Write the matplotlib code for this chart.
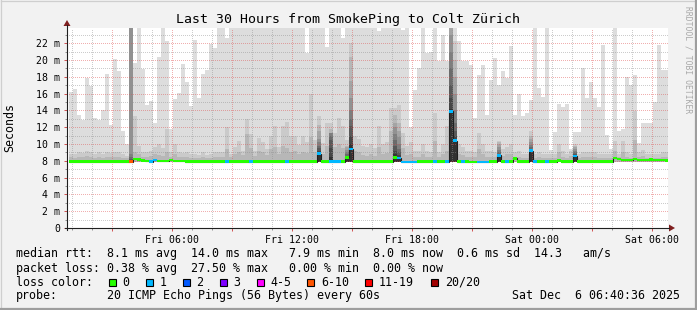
import numpy as np
import matplotlib.pyplot as plt
from matplotlib.patches import Rectangle, Polygon
from matplotlib.lines import Line2D

plt.rcParams['font.family'] = ['DejaVu Sans Mono']

# ---- data: 150 columns of 12 minutes, hours after Fri 00:00 ----------
t0 = 0.835
step = 0.2
F = 30.0  # above the top of the graph

smoke_max = [16.2, 16.6, 13.5, 12.9, 17.9, 16.9, 13.1, 12.8, 14.0, 18.3,
             12.3, 20.1, 18.7, 11.6, 10.0, F, 19.6, F, 18.9, 14.6,
             15.1, 12.5, 20.4, F, 22.3, 11.8, 15.4, 16.1, 19.5, 17.4,
             14.5, 22.4, 15.5, 18.3, 18.8, 21.9, 21.4, F, F, 22.6,
             F, F, F, F, F, F, F, F, F, F,
             F, F, F, F, F, F, F, F, F, 20.8,
             F, F, F, F, 21.5, F, F, F, 22.6, F,
             F, F, F, F, F, F, F, 23.4, F, F,
             F, F, F, 23.6, F, 12.0, 16.4, 19.0, F, 20.8,
             21.0, F, 19.9, 23.0, 19.9, F, F, 22.3, 19.9, 19.9,
             19.4, 13.1, 18.2, 19.4, 13.5, 17.6, 20.2, 17.0, 18.7, 17.9,
             21.7, 13.4, 15.9, 13.3, 13.7, 15.2, F, 16.7, 15.6, F,
             9.3, 11.4, 14.8, 14.4, 14.8, 9.4, 11.4, 11.4, 19.0, 15.5,
             17.4, 15.5, 14.4, 21.8, 11.1, 9.4, F, 11.5, 11.8, 18.0,
             17.0, 18.2, 10.1, 12.5, 12.5, 12.5, 15.0, 21.8, 18.8, 18.8]

smoke_p2 = [8.8, 8.8, 9.0, 8.9, 9.2, 9.0, 8.8, 9.0, 8.8, 9.0,
            8.9, 9.0, 9.0, 8.8, 8.6, F, 13.3, 9.8, 9.0, 9.0,
            9.2, 9.6, 10.0, 9.5, 11.8, 9.0, 10.0, 9.0, 8.9, 9.0,
            8.8, 8.8, 8.7, 9.0, 8.7, 8.8, 9.0, 9.1, 9.0, 12.0,
            8.8, 9.7, 10.4, 9.2, 13.0, 11.2, 9.2, 10.7, 10.2, 9.4,
            10.9, 12.2, 9.7, 12.1, 12.6, 10.9, 10.9, 9.9, 10.9, 10.2,
            15.9, 10.5, 13.3, 10.1, 12.5, 12.5, 11.3, 13.1, 12.1, 10.5,
            22.0, 10.9, 10.6, 9.8, 9.6, 10.0, 9.5, 12.1, 10.0, 10.2,
            14.3, 14.3, 14.7, 11.3, 9.8, 10.2, 9.2, 9.2, 10.0, 9.2,
            9.0, 13.7, 9.0, 10.0, 12.1, F, 22.3, 10.0, 9.6, 9.2,
            9.2, 9.0, 11.3, 10.0, 9.2, 9.2, 9.0, 10.4, 9.4, 9.6,
            10.0, 9.0, 9.2, 8.8, 8.8, 11.5, 8.8, 9.0, 8.8, 8.8,
            8.8, 8.8, 10.0, 9.2, 8.8, 9.2, 10.0, 8.8, 9.0, 9.0,
            9.0, 9.0, 8.8, 8.8, 8.8, 8.8, 10.4, 8.8, 10.4, 9.0,
            8.8, 13.9, 9.0, 9.3, 8.8, 8.8, 8.8, 8.8, 9.0, 9.0]

smoke_p3 = [8.4, 8.3, 8.4, 8.5, 8.6, 8.4, 8.3, 8.4, 8.3, 8.5,
            8.4, 8.5, 8.4, 8.3, 8.3, F, 9.0, 8.8, 8.5, 8.5,
            8.6, 8.8, 8.7, 8.6, 9.0, 8.5, 8.8, 8.4, 8.4, 8.5,
            8.3, 8.3, 8.3, 8.4, 8.3, 8.3, 8.4, 8.5, 8.4, 9.4,
            8.4, 8.8, 9.0, 8.7, 11.2, 9.5, 8.6, 9.2, 9.0, 8.7,
            9.4, 9.6, 8.8, 9.8, 9.5, 9.0, 9.2, 8.8, 9.0, 8.9,
            10.8, 9.0, 12.3, 8.8, 9.8, 11.8, 9.6, 10.0, 9.5, 9.8,
            20.4, 9.2, 9.0, 8.7, 8.6, 8.8, 8.6, 9.6, 8.8, 8.9,
            11.5, 13.5, 12.5, 9.5, 8.7, 8.8, 8.5, 8.5, 8.8, 8.5,
            8.4, 10.4, 8.4, 8.8, 9.2, F, 20.0, 8.8, 8.7, 8.5,
            8.5, 8.4, 9.4, 8.8, 8.5, 8.5, 8.4, 10.2, 8.6, 8.8,
            8.8, 8.5, 8.5, 8.3, 8.3, 11.0, 8.3, 8.4, 8.3, 8.3,
            8.3, 8.3, 9.0, 8.5, 8.3, 8.6, 9.8, 8.3, 8.4, 8.4,
            8.4, 8.4, 8.3, 8.3, 8.3, 8.3, 9.2, 8.4, 9.0, 8.4,
            8.3, 10.5, 8.4, 8.6, 8.3, 8.3, 8.3, 8.3, 8.4, 8.4]

# columns with dense smoke: tops of the darker layers 4..10
spike_cols = [15, 62, 65, 69, 70, 81, 82, 95, 96, 107, 115, 126]
spike_levels = [[F, F, 8.8, 8.4, 8.2, 8.1, 8.0],
                [11.5, 10.6, 10.2, 9.8, 9.5, 9.2, 9.0],
                [11.3, 11.3, 11.3, 11.0, 10.5, 9.5, 8.5],
                [9.6, 9.3, 9.0, 8.8, 8.6, 8.5, 8.4],
                [17.5, 15.5, 14.0, 13.0, 12.2, 11.0, 10.0],
                [12.5, 12.0, 11.2, 10.5, 9.8, 9.2, 8.8],
                [11.5, 10.8, 10.0, 9.4, 9.0, 8.7, 8.5],
                [F, 23.0, 21.0, 19.0, 17.0, 15.5, 14.2],
                [18.0, 16.0, 14.0, 12.5, 11.5, 11.0, 10.6],
                [10.0, 9.6, 9.3, 9.0, 8.8, 8.7, 8.65],
                [10.6, 10.2, 9.9, 9.6, 9.4, 9.3, 9.2],
                [9.6, 9.4, 9.2, 9.0, 8.8, 8.7, 8.6]]

median_ms = [7.9, 7.9, 7.9, 7.9, 7.9, 7.9, 7.9, 7.9, 7.9, 7.9,
             7.9, 7.9, 7.9, 7.9, 7.9, 7.9, 8.2, 8.15, 8.05, 8.0,
             7.9, 8.1, 8.0, 8.0, 7.95, 8.1, 8.0, 7.95, 7.95, 7.9,
             7.9, 7.9, 7.9, 7.9, 7.9, 7.9, 7.9, 7.9, 7.9, 7.9,
             7.9, 7.9, 7.9, 7.9, 7.9, 7.9, 7.9, 7.9, 7.9, 7.9,
             7.9, 7.9, 7.9, 7.9, 7.9, 7.9, 7.9, 7.9, 7.9, 7.9,
             7.9, 7.9, 8.85, 7.9, 7.9, 7.9, 7.9, 7.9, 7.9, 8.4,
             9.4, 7.9, 7.9, 7.9, 7.9, 7.9, 7.9, 7.9, 7.9, 7.9,
             7.9, 8.4, 8.35, 7.85, 7.85, 7.85, 7.85, 7.9, 7.9, 7.9,
             7.9, 7.9, 7.9, 7.9, 7.9, 13.9, 10.4, 7.9, 7.9, 7.9,
             7.85, 7.85, 7.85, 7.85, 7.85, 7.9, 7.9, 8.65, 7.9, 7.9,
             7.9, 8.3, 7.9, 7.9, 7.9, 9.2, 7.9, 7.9, 7.9, 7.9,
             7.9, 7.9, 8.05, 7.9, 7.9, 7.9, 8.6, 7.9, 7.9, 7.9,
             7.9, 7.9, 7.9, 7.9, 7.9, 7.9, 8.33, 8.2, 8.1, 8.1,
             8.1, 8.2, 8.1, 8.1, 8.1, 8.15, 8.1, 8.1, 8.1, 8.05]

# index into loss_colors (0 = no loss, 1 = one ping lost, 5 = 6-10 lost)
blue_cols = [20, 21, 39, 45, 54, 62, 65, 66, 67, 70, 82, 83, 84, 85, 86,
             91, 94, 95, 96, 98, 102, 103, 104, 107, 109, 115, 116, 119, 126]
orange_cols = [15]

loss_labels = ['0', '1', '2', '3', '4-5', '6-10', '11-19', '20/20']
loss_colors = ['#26ff00', '#00b8ff', '#0059ff', '#7e00ff',
               '#ff00ff', '#ff5500', '#ff0000', '#a10000']

xtick_hours = [3, 6, 9, 12, 15, 18, 21, 24, 27, 30]
xtick_labels = ['', 'Fri 06:00', '', 'Fri 12:00', '', 'Fri 18:00',
                '', 'Sat 00:00', '', 'Sat 06:00']
ytick_vals = list(range(0, 23, 2))
ytick_labels = ['0'] + ['%d m' % v for v in ytick_vals[1:]]

# ---- figure ------------------------------------------------------------
W, H = 697, 310
fig = plt.figure(figsize=(W / 100, H / 100), dpi=100, facecolor='#f2f2f2')
L, R, T, B = 67, 668, 28, 228
ax = fig.add_axes([L / W, 1 - B / H, (R - L) / W, (B - T) / H])
ax.set_facecolor('white')
ax.set_xlim(0.735, 30.785)
ax.set_ylim(0, 23.81)

n = len(smoke_max)
edges = t0 + step * np.arange(n + 1)
base = 7.8

# smoke: layer 1 (lightest) .. layer 10 (darkest)
greys = ['#%02x%02x%02x' % ((int(190 / 10 * (10 - i)) + 50,) * 3) for i in range(1, 11)]
for vals, g in zip([smoke_max, smoke_p2, smoke_p3], greys[:3]):
    ax.stairs(np.minimum(vals, 24), edges, baseline=base, fill=True,
              color=g, lw=0, zorder=1)
for li in range(7):
    layer = np.full(n, base)
    for c, lv in zip(spike_cols, spike_levels):
        layer[c] = min(lv[li], 24)
    ax.stairs(layer, edges, baseline=base, fill=True, color=greys[3 + li],
              lw=0, zorder=1)

# dotted grid, drawn over the smoke as rrdtool does
minor_c = (0.56, 0.56, 0.56, 0.45)
major_c = (0.87, 0.31, 0.31, 0.45)
dots = (0, (1, 2))
for h in range(1, 31):
    ax.axvline(h, color=major_c if h % 3 == 0 else minor_c, lw=0.72, ls=dots,
               antialiased=False, zorder=2)
for v in range(1, 24):
    ax.axhline(v, color=major_c if v % 2 == 0 else minor_c, lw=0.72, ls=dots,
               antialiased=False, zorder=2)

# median: thin dark step line, then loss coloured band on top
ax.stairs(median_ms, edges, baseline=None, color='#202020', lw=0.8, zorder=3)
loss_idx = np.zeros(n, dtype=int)
loss_idx[blue_cols] = 1
loss_idx[orange_cols] = 5
band = 0.3
ax.bar(edges[:-1], band, bottom=np.array(median_ms) - band / 2, width=step,
       align='edge', color=[loss_colors[i] for i in loss_idx], lw=0, zorder=4)

# axes, ticks
for s in ax.spines.values():
    s.set_visible(False)
ax.set_xticks(xtick_hours)
ax.set_xticklabels(xtick_labels, fontsize=7.1)
ax.set_xticks(range(1, 31), minor=True)
ax.set_yticks(ytick_vals)
ax.set_yticklabels(ytick_labels, fontsize=7.1)
ax.set_yticks(range(1, 24, 2), minor=True)
ax.tick_params(which='major', length=2.5, width=0.7, color='#d05050', pad=2.2)
ax.tick_params(which='minor', length=1.5, width=0.7, color='#909090')
ax.tick_params(axis='x', which='major', pad=2.6)

# overlay in pixel coordinates for frame, arrows and legend
ov = fig.add_axes([0, 0, 1, 1], zorder=10)
ov.set_xlim(0, W)
ov.set_ylim(H, 0)
ov.axis('off')
ov.patch.set_alpha(0)

ov.add_line(Line2D([L, L], [B + 2, T - 3], color='#1f1f1f', lw=0.8))
ov.add_line(Line2D([L - 2, R + 1], [B, B], color='#1f1f1f', lw=0.8))
arrow_col = (0.5, 0.12, 0.12)
ov.add_patch(Polygon([[L - 3.5, T - 2], [L + 3.5, T - 2], [L, T - 8]], color=arrow_col, lw=0))
ov.add_patch(Polygon([[R + 1, B - 3.5], [R + 1, B + 3.5], [R + 7, B]], color=arrow_col, lw=0))

# 3d frame
ov.add_line(Line2D([0.5, W], [0.5, 0.5], color='#cfcfcf', lw=0.9))
ov.add_line(Line2D([0.5, 0.5], [0, H], color='#cfcfcf', lw=0.9))
ov.add_line(Line2D([0, W], [H - 1, H - 1], color='#9e9e9e', lw=1.6))
ov.add_line(Line2D([W - 1, W - 1], [0, H], color='#9e9e9e', lw=1.6))

ov.text(348.5, 19, 'Last 30 Hours from SmokePing to Colt Zürich', ha='center',
        va='center', fontsize=9.5)
ov.text(10, 128, 'Seconds', rotation=90, ha='center', va='center', fontsize=8.4)
ov.text(688, 60, 'RRDTOOL / TOBI OETIKER', rotation=270, ha='center', va='center',
        fontsize=5.8, color='#a8a8a8')

fs = 8.4
ov.text(16, 254, 'median rtt:  8.1 ms avg  14.0 ms max   7.9 ms min  8.0 ms now'
        '  0.6 ms sd  14.3   am/s', va='center', fontsize=fs)
ov.text(16, 268.3, 'packet loss: 0.38 % avg  27.50 % max   0.00 % min  0.00 % now',
        va='center', fontsize=fs)
ov.text(16, 282.3, 'loss color:', va='center', fontsize=fs)
sw_x = [108.5, 145.5, 182.5, 219.5, 256.5, 307, 365, 431]
for x, lab, col in zip(sw_x, loss_labels, loss_colors):
    ov.add_patch(Rectangle((x, 278.5), 7, 7.5, facecolor=col, edgecolor='black', lw=0.8))
    ov.text(x + 14, 282.3, lab, va='center', fontsize=fs)
ov.text(16, 295.7, 'probe:', va='center', fontsize=fs)
ov.text(107, 295.7, '20 ICMP Echo Pings (56 Bytes) every 60s', va='center', fontsize=fs)
ov.text(680, 295.7, 'Sat Dec  6 06:40:36 2025', ha='right', va='center', fontsize=fs)

fig.savefig('out.png', dpi=100, facecolor=fig.get_facecolor())
